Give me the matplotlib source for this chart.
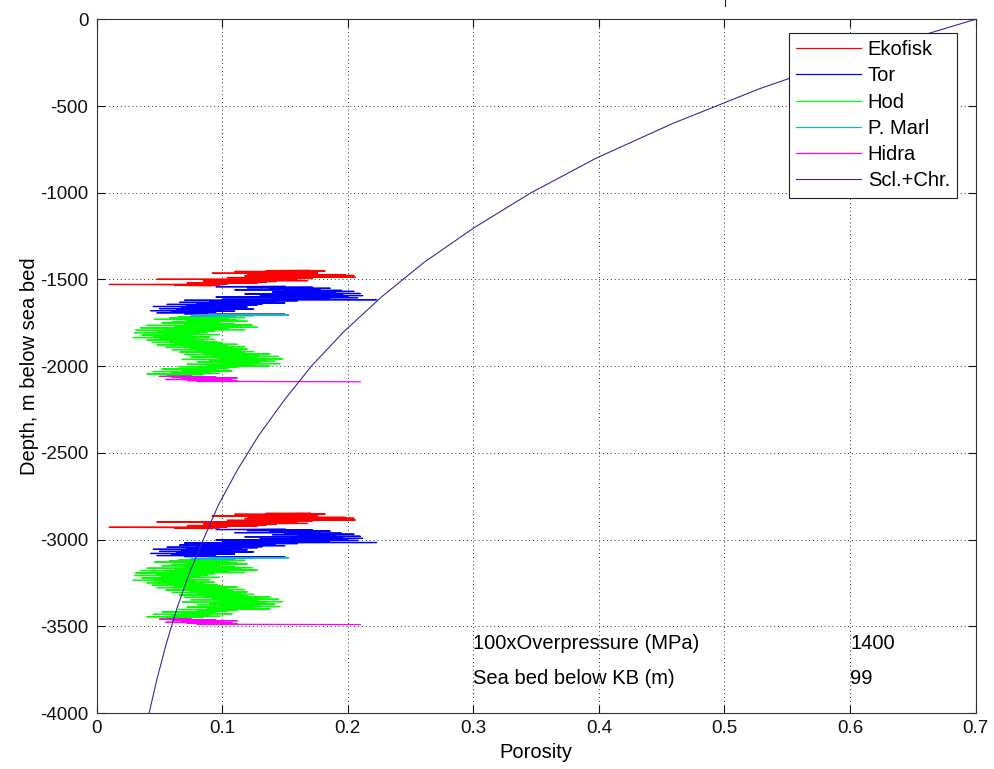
import matplotlib
matplotlib.use('Agg')
import matplotlib.pyplot as plt
from matplotlib.lines import Line2D
from matplotlib.ticker import FormatStrFormatter

plt.rcParams['font.family'] = ['Liberation Sans', 'DejaVu Sans']
plt.rcParams['axes.unicode_minus'] = False

# Porosity logs (depth in m below sea bed, porosity fraction), upper well section
ekofisk_depth = [1447, 1449, 1452, 1454, 1457, 1459, 1462, 1464, 1467, 1469, 1472, 1474,
                 1477, 1479, 1482, 1484, 1487, 1489, 1492, 1494, 1497, 1499, 1502, 1504,
                 1507, 1509, 1512, 1514, 1517, 1519, 1522, 1524, 1527, 1529, 1532, 1534, 1537]
ekofisk_phi = [0.170, 0.135, 0.182, 0.110, 0.165, 0.128, 0.176, 0.092, 0.158, 0.120, 0.198, 0.131,
               0.205, 0.118, 0.190, 0.140, 0.206, 0.104, 0.172, 0.125, 0.160, 0.048, 0.150, 0.112,
               0.168, 0.085, 0.143, 0.098, 0.135, 0.072, 0.128, 0.090, 0.104, 0.010, 0.098, 0.062, 0.092]

tor_depth = [1539, 1542, 1545, 1548, 1551, 1554, 1557, 1560, 1563, 1566, 1569, 1572, 1575, 1578,
             1581, 1584, 1587, 1590, 1593, 1596, 1599, 1602, 1605, 1608, 1611, 1614, 1617, 1620,
             1623, 1626, 1629, 1632, 1635, 1638, 1641, 1644, 1647, 1650, 1653, 1656, 1659, 1662,
             1665, 1668, 1671, 1674, 1677, 1680, 1683, 1686, 1689, 1692, 1695, 1698, 1701, 1703]
tor_phi = [0.150, 0.095, 0.172, 0.120, 0.186, 0.138, 0.178, 0.110, 0.195, 0.150, 0.205, 0.140, 0.190, 0.160,
           0.210, 0.118, 0.196, 0.155, 0.212, 0.130, 0.200, 0.095, 0.208, 0.140, 0.185, 0.100, 0.223, 0.070,
           0.160, 0.090, 0.142, 0.066, 0.150, 0.080, 0.132, 0.056, 0.128, 0.072, 0.115, 0.045, 0.120, 0.068,
           0.108, 0.050, 0.125, 0.064, 0.100, 0.043, 0.110, 0.060, 0.095, 0.048, 0.088, 0.070, 0.150, 0.090]

hod_depth = [1714, 1717, 1720, 1723, 1727, 1730, 1734, 1737, 1741, 1744, 1748, 1751, 1755, 1758,
             1762, 1765, 1769, 1772, 1776, 1779, 1783, 1786, 1790, 1793, 1797, 1800, 1804, 1807,
             1811, 1814, 1818, 1821, 1825, 1828, 1832, 1835, 1839, 1842, 1846, 1849, 1853, 1856,
             1860, 1863, 1867, 1870, 1874, 1877, 1881, 1884, 1888, 1891, 1895, 1898, 1902, 1905,
             1909, 1912, 1916, 1919, 1923, 1926, 1930, 1933, 1937, 1940, 1944, 1947, 1951, 1954,
             1958, 1961, 1965, 1968, 1972, 1975, 1979, 1982, 1986, 1989, 1993, 1996, 2000, 2003,
             2007, 2010, 2014, 2017, 2021, 2024, 2028, 2031, 2035, 2038, 2042, 2045, 2049, 2052, 2056]
hod_phi = [0.090, 0.065, 0.118, 0.058, 0.105, 0.046, 0.112, 0.072, 0.120, 0.060, 0.098, 0.052, 0.110, 0.070,
           0.124, 0.040, 0.115, 0.062, 0.128, 0.035, 0.105, 0.055, 0.118, 0.031, 0.094, 0.048, 0.088, 0.030,
           0.082, 0.052, 0.098, 0.036, 0.075, 0.045, 0.090, 0.029, 0.078, 0.050, 0.094, 0.040, 0.085, 0.058,
           0.096, 0.044, 0.100, 0.062, 0.112, 0.048, 0.104, 0.070, 0.118, 0.055, 0.108, 0.074, 0.120, 0.060,
           0.115, 0.080, 0.125, 0.066, 0.118, 0.085, 0.138, 0.070, 0.130, 0.092, 0.145, 0.075, 0.128, 0.098,
           0.148, 0.068, 0.135, 0.090, 0.142, 0.080, 0.130, 0.100, 0.146, 0.072, 0.125, 0.088, 0.138, 0.065,
           0.112, 0.080, 0.104, 0.052, 0.095, 0.068, 0.108, 0.045, 0.090, 0.060, 0.098, 0.040, 0.085, 0.056, 0.075]

pmarl_depth = [1703, 1705, 1707, 1709, 1711, 1713]
pmarl_phi = [0.090, 0.153, 0.100, 0.125, 0.075, 0.110]

hidra_depth = [2056, 2059, 2062, 2065, 2068, 2071, 2074, 2077, 2080, 2083, 2086, 2088, 2090]
hidra_phi = [0.075, 0.050, 0.095, 0.060, 0.112, 0.068, 0.100, 0.055, 0.108, 0.072, 0.112, 0.080, 0.210]

# Overpressure shifts the same logs down (100 x MPa -> m)
overpressure = 1400
seabed_kb = 99

# Sclater & Christie compaction curve, read every 200 m
scl_depth = [0, 200, 400, 600, 800, 1000, 1200, 1400, 1600, 1800, 2000,
             2200, 2400, 2600, 2800, 3000, 3200, 3400, 3600, 3800, 4000]
scl_phi = [0.700, 0.608, 0.528, 0.459, 0.398, 0.346, 0.301, 0.261, 0.227, 0.197, 0.171,
           0.149, 0.129, 0.112, 0.097, 0.085, 0.0735, 0.0638, 0.0555, 0.0482, 0.0418]

fs_tick = 13.5
fs = 14.5

fig = plt.figure(figsize=(9.95, 7.69), dpi=100)
ax = fig.add_axes([0.0971, 0.0728, 0.8834, 0.9021])

logs = [(ekofisk_depth, ekofisk_phi, 'Ekofisk', '#ff0000'),
        (tor_depth, tor_phi, 'Tor', '#0000ff'),
        (hod_depth, hod_phi, 'Hod', '#00ff00'),
        (pmarl_depth, pmarl_phi, 'P. Marl', '#10b8b8'),
        (hidra_depth, hidra_phi, 'Hidra', '#ff00ff')]

for d, p, name, c in logs:
    ax.plot(p, [-z for z in d], color=c, lw=0.9, label=name)
for d, p, name, c in logs:
    ax.plot(p, [-(z + overpressure) for z in d], color=c, lw=0.9)

ax.plot(scl_phi, [-z for z in scl_depth], color='#2e2e9c', lw=0.8, label='Scl.+Chr.')

ax.set_xlim(0, 0.7)
ax.set_ylim(-4000, 0)
ax.set_xticks([0, 0.1, 0.2, 0.3, 0.4, 0.5, 0.6, 0.7])
ax.set_yticks(range(-4000, 1, 500))
ax.xaxis.set_major_formatter(FormatStrFormatter('%g'))
ax.grid(True, color='#333333', linestyle=(0, (1, 3)), lw=0.7)
ax.tick_params(direction='in', top=True, right=True, length=6, width=0.8,
               labelsize=fs_tick, colors='#111111')
ax.tick_params(axis='x', pad=5)
ax.tick_params(axis='y', pad=6)
for s in ax.spines.values():
    s.set_color('#333333')
    s.set_linewidth(0.8)

ax.set_xlabel('Porosity', fontsize=fs, labelpad=4)
ax.set_ylabel('Depth, m below sea bed', fontsize=fs, labelpad=1)

ax.text(0.3, -3602, '100xOverpressure (MPa)', fontsize=fs, va='center')
ax.text(0.6, -3602, str(overpressure), fontsize=fs, va='center')
ax.text(0.3, -3803, 'Sea bed below KB (m)', fontsize=fs, va='center')
ax.text(0.6, -3803, str(seabed_kb), fontsize=fs, va='center')

leg = ax.legend(loc='upper right', bbox_to_anchor=(0.979, 0.980), borderaxespad=0,
                fancybox=False, framealpha=1, edgecolor='#222222', fontsize=fs,
                handlelength=3.2, labelspacing=0.36, borderpad=0.35, handletextpad=0.35)
leg.get_frame().set_linewidth(0.8)

fig.add_artist(Line2D([725 / 995, 725 / 995], [1, 1 - 6 / 769], transform=fig.transFigure,
                      color='#222222', lw=0.8))

fig.savefig('out.png', dpi=100)
